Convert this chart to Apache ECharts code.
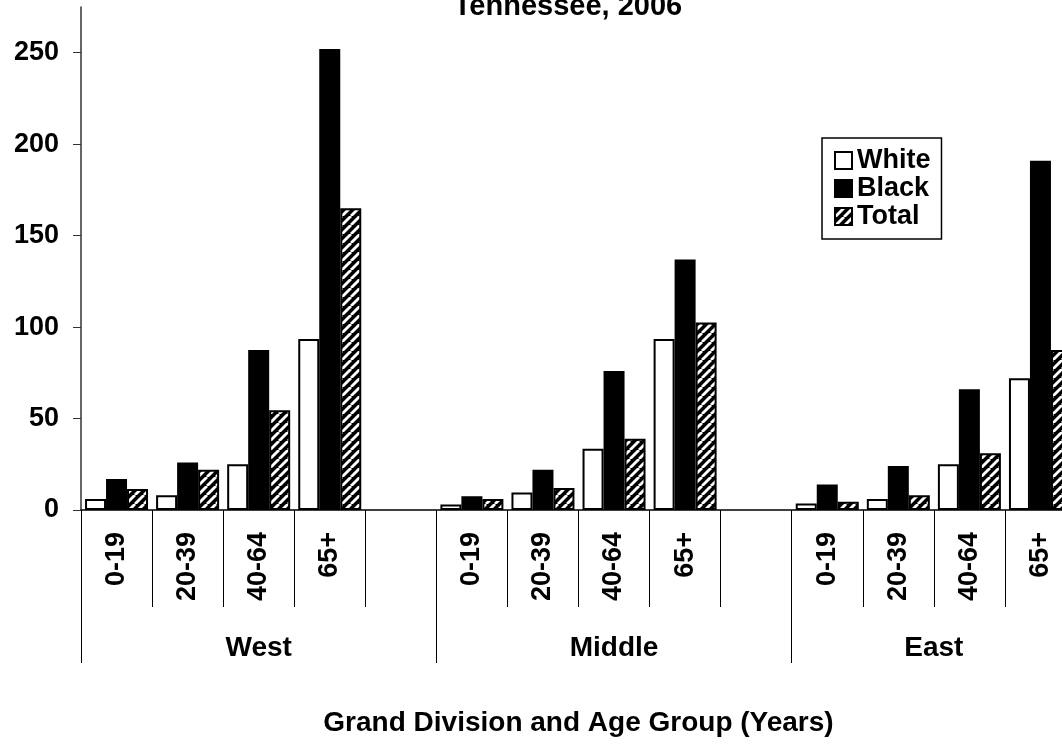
<!DOCTYPE html>
<html><head><meta charset="utf-8">
<script src="https://cdn.jsdelivr.net/npm/echarts@6/dist/echarts.min.js"></script>
<style>html,body{margin:0;padding:0;background:#fff}#c{width:1062px;height:746px}</style>
</head><body><div id="c"></div>
<script>
// ---- data ----
const categories = ['0-19','20-39','40-64','65+','', '0-19','20-39','40-64','65+','', '0-19','20-39','40-64','65+'];
const divisions = ['West','Middle','East'];
const divisionSpans = [5, 5, 4];
const white = [6, 8, 25, 93.5, null, 3, 9.5, 33.5, 93.5, null, 3.5, 6, 25, 72];
const black = [17, 26, 87.5, 252, null, 7.5, 22, 76, 137, null, 14, 24, 66, 191];
const total = [11.5, 22, 54.5, 165, null, 6, 12, 39, 102.5, null, 4.5, 8, 31, 87.5];
const yTicks = [0, 50, 100, 150, 200, 250];
const titleText = 'Tennessee, 2006';
const axisName = 'Grand Division and Age Group (Years)';

// division boundaries / centres on a 0..N value scale
const bounds = [0];
divisionSpans.forEach(s => bounds.push(bounds[bounds.length - 1] + s));
const centres = divisionSpans.map((s, i) => bounds[i] + s / 2);

// hatch pattern
const pc = document.createElement('canvas');
pc.width = 9; pc.height = 9;
const g = pc.getContext('2d');
g.fillStyle = '#000'; g.fillRect(0, 0, 9, 9);
g.strokeStyle = '#fff'; g.lineWidth = 2.8;
[[-9, 9], [0, 9], [9, 9]].forEach(([dx]) => {
  g.beginPath(); g.moveTo(dx, 9); g.lineTo(dx + 9, 0); g.stroke();
});
const hatch = { image: pc, repeat: 'repeat' };

const FONT = "'Liberation Sans', Arial, sans-serif";
const chart = echarts.init(document.getElementById('c'), null, { renderer: 'canvas' });
const barStyle = (fill) => ({ color: fill, borderColor: '#000', borderWidth: 2 });

chart.setOption({
  animation: false,
  backgroundColor: '#fff',
  textStyle: { fontFamily: FONT },
  graphic: [{
    type: 'text', x: 568, y: 21,
    style: { text: titleText, align: 'center', verticalAlign: 'bottom',
      font: "bold 29px 'Liberation Sans', Arial, sans-serif", fill: '#000' }
  }],
  legend: {
    data: ['White', 'Black', 'Total'],
    orient: 'vertical', left: 822, top: 138,
    icon: 'rect', itemWidth: 17, itemHeight: 17, itemGap: 1, itemTextGap: 12,
    padding: [9, 11, 9, 12], borderColor: '#000', borderWidth: 1.5, backgroundColor: '#fff',
    textStyle: { fontSize: 27, fontWeight: 'bold', color: '#000', fontFamily: FONT }
  },
  grid: { left: 81, top: 7, width: 995, height: 503, containLabel: false, outerBoundsMode: 'none' },
  xAxis: [{
    type: 'category', data: categories, position: 'bottom',
    axisLine: { lineStyle: { color: '#000', width: 1.5 } },
    axisTick: { show: true, interval: 0, length: 97, lineStyle: { color: '#000', width: 1 } },
    axisLabel: { interval: 0, rotate: 90, margin: 22, fontSize: 27, fontWeight: 'bold', color: '#000', fontFamily: FONT },
    splitLine: { show: false },
    name: axisName, nameLocation: 'middle', nameGap: 199,
    nameTextStyle: { fontSize: 28, fontWeight: 'bold', color: '#000', fontFamily: FONT }
  }, {
    type: 'value', position: 'bottom', min: 0, max: bounds[bounds.length - 1],
    axisLine: { show: false },
    axisTick: { show: true, length: 153, customValues: bounds, lineStyle: { color: '#000', width: 1 } },
    axisLabel: { customValues: centres, margin: 124, fontSize: 28, fontWeight: 'bold', color: '#000', fontFamily: FONT,
      formatter: (v) => { const i = centres.indexOf(v); return i >= 0 ? divisions[i] : ''; } },
    splitLine: { show: false }
  }],
  yAxis: {
    type: 'value', min: 0, max: 275,
    axisLine: { show: true, lineStyle: { color: '#333', width: 1.5 } },
    axisTick: { show: true, length: 8, customValues: yTicks, lineStyle: { color: '#333', width: 1 } },
    axisLabel: { customValues: yTicks, margin: 22, fontSize: 27, fontWeight: 'bold', color: '#000', fontFamily: FONT },
    splitLine: { show: false }
  },
  series: [
    { name: 'White', type: 'bar', data: white, barWidth: 21, barGap: '0%', itemStyle: barStyle('#fff') },
    { name: 'Black', type: 'bar', data: black, barWidth: 21, barGap: '0%', itemStyle: barStyle('#000') },
    { name: 'Total', type: 'bar', data: total, barWidth: 21, barGap: '0%', itemStyle: barStyle(hatch) }
  ]
});
</script></body></html>
